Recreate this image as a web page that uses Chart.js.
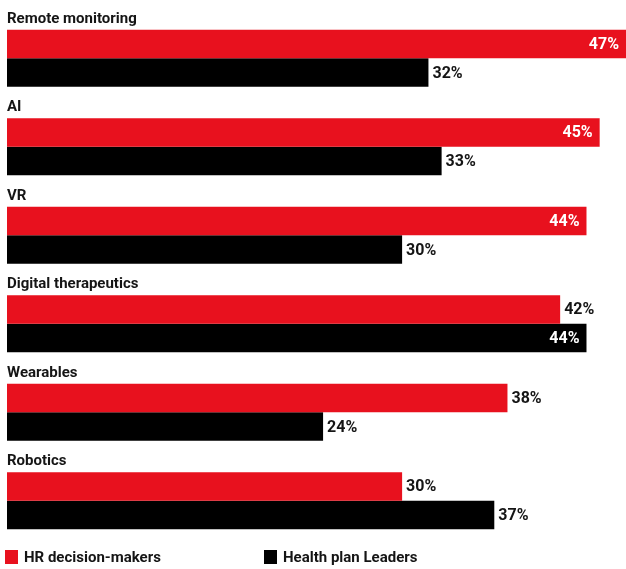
<!DOCTYPE html>
<html>
<head>
<meta charset="utf-8">
<script src="https://cdn.jsdelivr.net/npm/chart.js@4"></script>
<style>
  body { margin: 0; background: #fff; }
  canvas { display: block; }
</style>
</head>
<body>
<canvas id="chart" width="626" height="569"></canvas>
<script>
// Dados do gráfico
const categories = ['Remote monitoring', 'AI', 'VR', 'Digital therapeutics', 'Wearables', 'Robotics'];
const hrValues = [47, 45, 44, 42, 38, 30];
const healthPlanValues = [32, 33, 30, 44, 24, 37];
const seriesNames = ['HR decision-makers', 'Health plan Leaders'];
const seriesColors = ['#e8111e', '#000000'];

const FONT = 'Roboto, "Liberation Sans", sans-serif';

// Rótulos das categorias acima de cada grupo + valores
const labelsPlugin = {
  id: 'labels',
  afterDatasetsDraw(chart) {
    const ctx = chart.ctx;
    const red = chart.getDatasetMeta(0).data;
    ctx.save();
    ctx.fillStyle = '#151515';
    ctx.font = 'bold 15px ' + FONT;
    ctx.textAlign = 'left';
    ctx.textBaseline = 'alphabetic';
    red.forEach((bar, i) => {
      const top = bar.y - bar.height / 2;
      ctx.fillText(categories[i], 7, top - 7);
    });

    ctx.font = 'bold 16px ' + FONT;
    ctx.textBaseline = 'middle';
    chart.data.datasets.forEach((ds, d) => {
      chart.getDatasetMeta(d).data.forEach((bar, i) => {
        const v = ds.data[i];
        const txt = v + '%';
        if (v >= 44) {
          ctx.fillStyle = '#ffffff';
          ctx.textAlign = 'right';
          ctx.fillText(txt, bar.x - 7, bar.y + 1);
        } else {
          ctx.fillStyle = '#151515';
          ctx.textAlign = 'left';
          ctx.fillText(txt, bar.x + 4, bar.y + 1);
        }
      });
    });

    // Legenda
    const legendX = [5, 264];
    ctx.font = 'bold 15px ' + FONT;
    ctx.textAlign = 'left';
    seriesNames.forEach((name, d) => {
      ctx.fillStyle = seriesColors[d];
      ctx.fillRect(legendX[d], 550, 13, 14);
      ctx.fillStyle = '#151515';
      ctx.fillText(name, legendX[d] + 19, 558);
    });
    ctx.restore();
  }
};

const chart = new Chart(document.getElementById('chart'), {
  type: 'bar',
  data: {
    labels: categories,
    datasets: [
      { label: seriesNames[0], data: hrValues, backgroundColor: seriesColors[0] },
      { label: seriesNames[1], data: healthPlanValues, backgroundColor: seriesColors[1] }
    ]
  },
  options: {
    indexAxis: 'y',
    responsive: false,
    animation: false,
    datasets: {
      bar: { categoryPercentage: 0.645, barPercentage: 1.0 }
    },
    layout: { padding: { top: 14, bottom: 24, left: 7, right: 0 } },
    scales: {
      x: { display: false, min: 0, max: 47 },
      y: { display: false }
    },
    plugins: {
      legend: { display: false },
      tooltip: { enabled: false }
    }
  },
  plugins: [labelsPlugin]
});
</script>
</body>
</html>
